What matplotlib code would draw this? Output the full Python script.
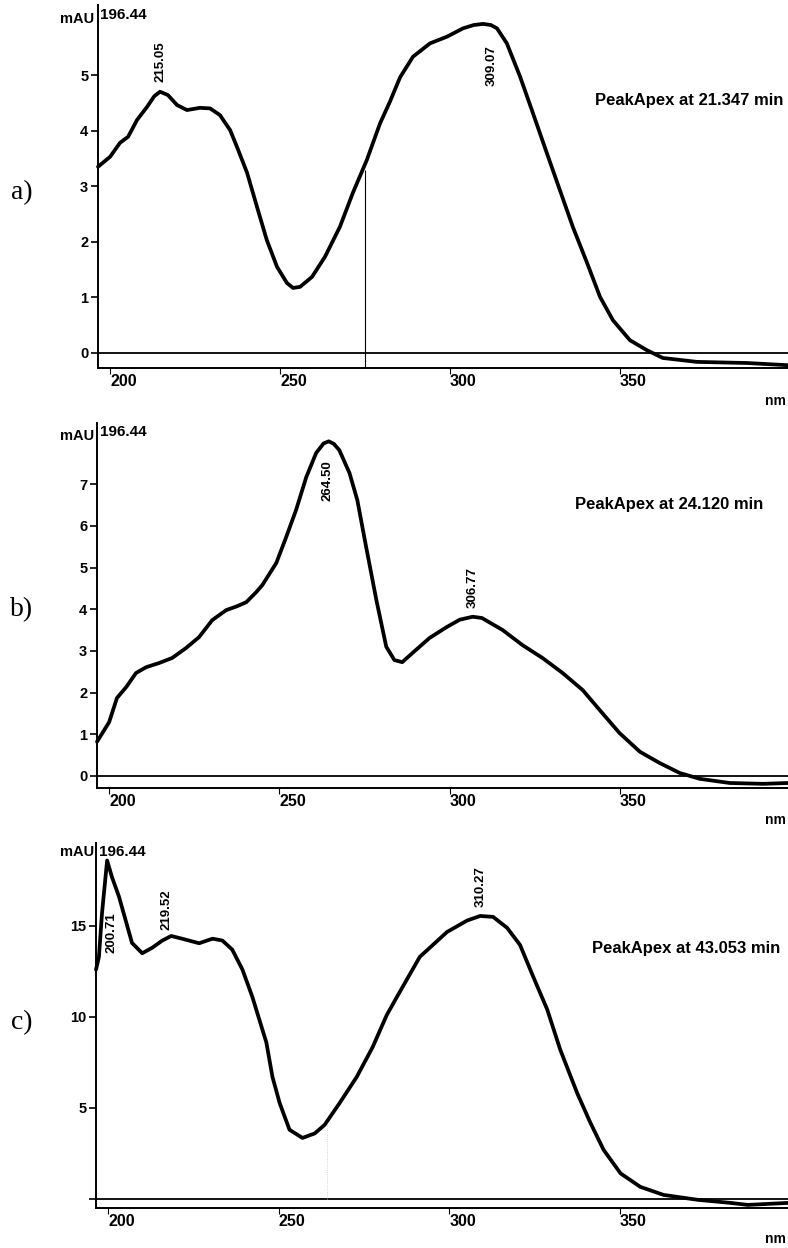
import matplotlib
matplotlib.use("Agg")
import matplotlib.pyplot as plt

# ---------------- data ----------------
wl_a = [196.44, 200.0, 202.9, 205.3, 207.9, 210.9, 213.0, 214.7, 217.0, 219.7,
        222.6, 226.4, 229.4, 232.3, 235.3, 237.3, 240.3, 243.2, 246.1, 249.1,
        252.0, 253.8, 255.9, 259.4, 263.2, 267.6, 271.4, 275.5, 279.4, 282.3,
        285.3, 289.1, 294.1, 299.1, 303.8, 307.0, 309.7, 312.0, 313.8, 316.7,
        320.6, 324.4, 328.5, 332.3, 336.1, 340.3, 344.1, 347.9, 352.9, 357.9,
        362.6, 372.6, 387.3, 399.4]
mau_a = [3.35, 3.53, 3.78, 3.89, 4.19, 4.43, 4.62, 4.70, 4.64, 4.46,
         4.37, 4.41, 4.40, 4.28, 4.01, 3.71, 3.24, 2.63, 2.03, 1.55,
         1.26, 1.17, 1.19, 1.37, 1.73, 2.27, 2.88, 3.47, 4.13, 4.52,
         4.96, 5.33, 5.57, 5.69, 5.84, 5.90, 5.92, 5.90, 5.84, 5.57,
         4.97, 4.31, 3.59, 2.93, 2.27, 1.62, 1.01, 0.59, 0.23, 0.05,
         -0.09, -0.16, -0.18, -0.22]

wl_b = [196.44, 200.0, 202.3, 205.0, 207.9, 210.9, 214.7, 218.5, 222.6, 226.4,
        230.3, 234.4, 237.5, 240.3, 243.2, 245.0, 249.1, 252.0, 254.9, 257.9,
        260.8, 263.0, 264.5, 266.0, 267.6, 270.6, 272.9, 275.5, 278.5, 281.4,
        283.8, 286.1, 289.1, 294.1, 299.1, 303.0, 306.8, 309.5, 315.6, 321.4,
        327.3, 333.2, 339.1, 344.1, 349.9, 355.9, 361.7, 367.6, 373.5, 382.3,
        392.1, 399.4]
mau_b = [0.82, 1.29, 1.87, 2.13, 2.47, 2.61, 2.71, 2.83, 3.07, 3.33,
         3.74, 3.98, 4.07, 4.17, 4.41, 4.58, 5.11, 5.73, 6.38, 7.17,
         7.75, 7.98, 8.03, 7.97, 7.82, 7.27, 6.62, 5.49, 4.22, 3.10,
         2.78, 2.73, 2.95, 3.31, 3.57, 3.75, 3.82, 3.79, 3.50, 3.14,
         2.83, 2.47, 2.06, 1.58, 1.03, 0.58, 0.31, 0.07, -0.07, -0.17,
         -0.19, -0.17]

wl_c = [196.44, 197.3, 198.2, 199.7, 201.1, 203.2, 205.3, 207.0, 210.0, 212.9,
        215.9, 218.5, 221.7, 226.7, 230.6, 233.5, 236.4, 239.4, 242.3, 246.4,
        248.2, 250.3, 253.2, 257.0, 260.6, 263.5, 267.9, 272.9, 277.6, 281.7,
        284.7, 291.4, 299.4, 305.3, 309.1, 312.9, 317.0, 320.8, 324.7, 328.8,
        332.6, 337.6, 341.4, 345.3, 350.3, 356.1, 362.9, 372.9, 382.6, 387.6,
        399.4]
mau_c = [12.6, 13.3, 15.7, 18.6, 17.7, 16.6, 15.2, 14.07, 13.5, 13.8,
         14.2, 14.45, 14.3, 14.05, 14.3, 14.2, 13.7, 12.6, 11.1, 8.6,
         6.7, 5.27, 3.8, 3.35, 3.6, 4.07, 5.27, 6.7, 8.35, 10.1,
         11.1, 13.3, 14.67, 15.3, 15.55, 15.5, 14.9, 13.96, 12.2, 10.4,
         8.2, 5.8, 4.2, 2.7, 1.4, 0.66, 0.22, -0.05, -0.22, -0.33,
         -0.22]

xticks = [200, 250, 300, 350]
xtick_labels = ["200", "250", "300", "350"]
yticks_a = [0, 1, 2, 3, 4, 5]
yticks_b = [0, 1, 2, 3, 4, 5, 6, 7]
yticks_c = [0, 5, 10, 15]
ytick_labels_c = ["", "5", "10", "15"]

panel_letters = ["a)", "b)", "c)"]
apex_texts = ["PeakApex at 21.347 min", "PeakApex at 24.120 min", "PeakApex at 43.053 min"]
start_label = "196.44"

# peak annotations: (x, y, text, vertical alignment)
peaks_a = [(214.7, 4.87, "215.05", "bottom"), (312.3, 5.54, "309.07", "top")]
peaks_b = [(264.1, 7.58, "264.50", "top"), (306.7, 4.03, "306.77", "bottom")]
peaks_c = [(200.9, 15.77, "200.71", "top"), (217.0, 14.78, "219.52", "bottom"),
           (309.4, 16.04, "310.27", "bottom")]

cursor_a = 275.0       # cursor line position in panel a
cursor_a_top = 3.3
cursor_c = 264.1
cursor_c_top = 4.1

# ---------------- figure ----------------
W, H = 788, 1248
fig = plt.figure(figsize=(W / 100, H / 100), dpi=100)
fig.patch.set_facecolor("white")

SANS = "Liberation Sans"
SERIF = "Liberation Serif"


def fx(px):
    return px / W


def fy(py):
    return 1 - py / H


panels = [
    dict(rect=[fx(98), fy(368), fx(690), 363 / H], wl=wl_a, v=mau_a, ylim=(-0.27, 6.26),
         yt=yticks_a, ytl=[str(t) for t in yticks_a], peaks=peaks_a,
         letter_y=193, apex=(783, 100), mau_y=19, start=(100, 15), nm_y=401),
    dict(rect=[fx(97), fy(788), fx(691), 365 / H], wl=wl_b, v=mau_b, ylim=(-0.29, 8.47),
         yt=yticks_b, ytl=[str(t) for t in yticks_b], peaks=peaks_b,
         letter_y=610, apex=(763, 505), mau_y=436, start=(100, 432), nm_y=820),
    dict(rect=[fx(96), fy(1208), fx(692), 365 / H], wl=wl_c, v=mau_c, ylim=(-0.5, 19.56),
         yt=yticks_c, ytl=ytick_labels_c, peaks=peaks_c,
         letter_y=1023, apex=(780, 948), mau_y=852, start=(99, 852), nm_y=1239),
]

for i, p in enumerate(panels):
    ax = fig.add_axes(p["rect"])
    ax.set_facecolor("none")
    ax.plot(p["wl"], p["v"], color="black", lw=2.7, solid_joinstyle="round",
            solid_capstyle="round", clip_on=False)
    ax.axhline(0, color="black", lw=1.3)
    ax.set_xlim(196.44, 399.4)
    ax.set_ylim(*p["ylim"])
    for s in ["top", "right"]:
        ax.spines[s].set_visible(False)
    for s in ["left", "bottom"]:
        ax.spines[s].set_linewidth(1.4)
        ax.spines[s].set_color("black")

    ax.set_xticks(xticks)
    ax.set_xticklabels(xtick_labels, fontfamily=SANS, fontweight="bold", fontsize=11.5)
    for lbl in ax.get_xticklabels():
        lbl.set_horizontalalignment("left")
    ax.tick_params(axis="x", direction="out", length=4, width=0.8, pad=0.5)

    ax.set_yticks(p["yt"])
    ax.set_yticklabels(p["ytl"], fontfamily=SANS, fontweight="bold", fontsize=10.5)
    ax.tick_params(axis="y", direction="out", length=5, width=1.2, pad=2)

    for (x, y, t, va) in p["peaks"]:
        ax.text(x, y, t, rotation=90, ha="center", va=va, fontsize=9.5,
                fontfamily=SANS, fontweight="bold")

    if i == 0:
        ax.vlines(cursor_a, p["ylim"][0], cursor_a_top, color="black", lw=0.8)
    if i == 2:
        ax.vlines(cursor_c, 0, cursor_c_top, color="#c8c8c8", lw=0.6, linestyles=":")

    fig.text(fx(22), fy(p["letter_y"]), panel_letters[i], fontfamily=SERIF,
             fontsize=20, ha="center", va="center")
    fig.text(fx(p["apex"][0]), fy(p["apex"][1]), apex_texts[i], fontfamily=SANS,
             fontweight="bold", fontsize=12, ha="right", va="center")
    fig.text(fx(94), fy(p["mau_y"]), "mAU", fontfamily=SANS, fontweight="bold",
             fontsize=10.5, ha="right", va="center")
    fig.text(fx(p["start"][0]), fy(p["start"][1]), start_label, fontfamily=SANS,
             fontweight="bold", fontsize=11, ha="left", va="center")
    fig.text(fx(786), fy(p["nm_y"]), "nm", fontfamily=SANS, fontweight="bold",
             fontsize=10, ha="right", va="center")

fig.savefig("out.png", dpi=100)
